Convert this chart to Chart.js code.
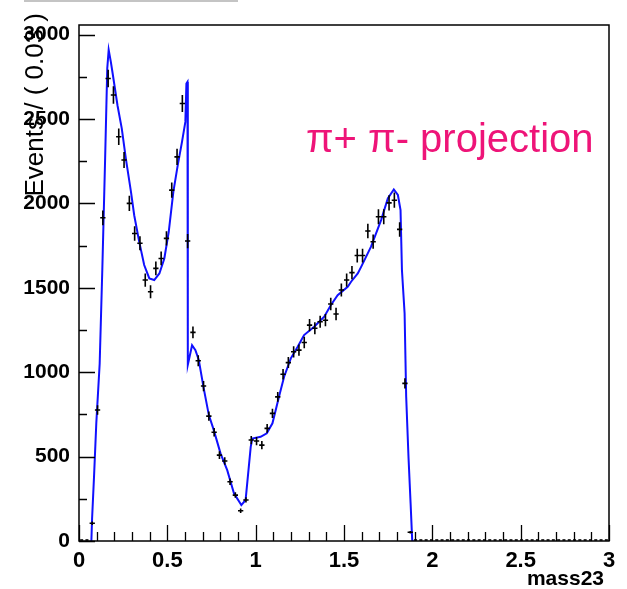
<!DOCTYPE html>
<html>
<head>
<meta charset="utf-8">
<title>mass23 projection</title>
<script src="https://cdn.jsdelivr.net/npm/chart.js@4.4.1/dist/chart.umd.min.js"></script>
<style>
    html, body { margin: 0; padding: 0; background: #ffffff; }
    #wrap { width: 627px; height: 589px; }
</style>
</head>
<body>
<div id="wrap"><canvas id="grafico" width="627" height="589"></canvas></div>
<script>
// ========== DADOS ==========
const larguraBin = 0.03;

// contagens por bin (0.00 a 3.00, bins de 0.03)
const contagens = [
    0, 0, 105, 776, 1915, 2740, 2642, 2395, 2257, 2000,
    1822, 1764, 1546, 1477, 1615, 1674, 1793, 2079, 2276, 2592,
    1777, 1236, 1068, 918, 740, 644, 509, 474, 351, 272,
    179, 243, 598, 592, 568, 667, 756, 854, 988, 1057,
    1121, 1131, 1176, 1279, 1260, 1299, 1308, 1404, 1345, 1487,
    1546, 1590, 1691, 1691, 1837, 1773, 1921, 1921, 2003, 2019,
    1846, 934, 52, 0, 0, 0, 0, 0, 0, 0,
    0, 0, 0, 0, 0, 0, 0, 0, 0, 0,
    0, 0, 0, 0, 0, 0, 0, 0, 0, 0,
    0, 0, 0, 0, 0, 0, 0, 0, 0, 0
];

// curva do ajuste (x, y)
const ajusteX = [
    0.070, 0.074, 0.085, 0.098, 0.117, 0.132, 0.148, 0.160, 0.168, 0.180,
    0.189, 0.218, 0.242, 0.265, 0.294, 0.3125, 0.341, 0.369, 0.398, 0.426,
    0.455, 0.483, 0.508, 0.534, 0.559, 0.583, 0.602, 0.608, 0.614, 0.616,
    0.640, 0.659, 0.678, 0.706, 0.735, 0.763, 0.801, 0.839, 0.877, 0.919,
    0.943, 0.972, 0.981, 1.028, 1.063, 1.095, 1.132, 1.161, 1.199, 1.237,
    1.274, 1.331, 1.388, 1.426, 1.464, 1.521, 1.540, 1.578, 1.597, 1.653,
    1.710, 1.748, 1.782, 1.805, 1.820, 1.828, 1.843, 1.852, 1.865, 1.877,
    1.886, 1.892
];
const ajusteY = [
    0, 130, 380, 700, 1050, 1610, 2270, 2800, 2910, 2840,
    2780, 2580, 2445, 2267, 2070, 1930, 1772, 1635, 1556, 1546,
    1585, 1674, 1832, 2068, 2227, 2365, 2483, 2710, 2720, 1045,
    1160, 1131, 1072, 904, 746, 657, 519, 420, 282, 213,
    243, 558, 607, 617, 638, 697, 854, 973, 1082, 1150,
    1220, 1269, 1329, 1398, 1456, 1506, 1536, 1585, 1624, 1744,
    1901, 2029, 2083, 2050, 1960, 1605, 1349, 854, 499, 223,
    5, 0
];

const ticksX = [0, 0.5, 1, 1.5, 2, 2.5, 3];
const rotulosX = ['0', '0.5', '1', '1.5', '2', '2.5', '3'];
const ticksY = [0, 500, 1000, 1500, 2000, 2500, 3000];
const rotulosY = ['0', '500', '1000', '1500', '2000', '2500', '3000'];

const tituloX = 'mass23';
const tituloY = 'Events / ( 0.03 )';
const textoProjecao = '\u03c0+ \u03c0- projection';

const FONTE = "'Liberation Sans', Arial, Helvetica, sans-serif";

// ========== PLUGINS ==========
// barras de erro dos pontos (estilo ROOT)
const barrasErro = {
    id: 'barrasErro',
    afterDatasetsDraw(chart) {
        const ctx = chart.ctx;
        const xs = chart.scales.x, ys = chart.scales.y;
        ctx.save();
        ctx.strokeStyle = '#000000';
        ctx.lineWidth = 1.6;
        contagens.forEach((n, i) => {
            const xc = (i + 0.5) * larguraBin;
            const px = xs.getPixelForValue(xc);
            const py = ys.getPixelForValue(n);
            ctx.beginPath();
            if (n > 0) {
                const erro = Math.sqrt(n);
                ctx.moveTo(xs.getPixelForValue(xc - larguraBin / 2), py);
                ctx.lineTo(xs.getPixelForValue(xc + larguraBin / 2), py);
                ctx.moveTo(px, ys.getPixelForValue(n - erro));
                ctx.lineTo(px, ys.getPixelForValue(n + erro));
            } else {
                ctx.moveTo(px - 1.5, py - 1);
                ctx.lineTo(px + 1.5, py - 1);
            }
            ctx.stroke();
        });
        ctx.restore();
    }
};

// moldura, marcas dos eixos (para dentro) e textos
const moldura = {
    id: 'moldura',
    afterDraw(chart) {
        const ctx = chart.ctx;
        const a = chart.chartArea;
        const xs = chart.scales.x, ys = chart.scales.y;
        ctx.save();
        ctx.strokeStyle = '#000000';
        ctx.lineWidth = 1.5;
        ctx.strokeRect(a.left, a.top, a.right - a.left, a.bottom - a.top);

        ctx.lineWidth = 1.3;
        ctx.beginPath();
        for (let v = 0; v <= 3000; v += 250) {
            const py = Math.round(ys.getPixelForValue(v)) + 0.5;
            const tam = v % 500 === 0 ? 16 : 8;
            ctx.moveTo(a.left, py);
            ctx.lineTo(a.left + tam, py);
        }
        for (let k = 0; k <= 30; k++) {
            const px = Math.round(xs.getPixelForValue(k * 0.1)) + 0.5;
            const tam = k % 5 === 0 ? 16 : 9;
            ctx.moveTo(px, a.bottom);
            ctx.lineTo(px, a.bottom - tam);
        }
        ctx.stroke();

        // linha cinza no topo
        ctx.strokeStyle = '#c4c4c4';
        ctx.lineWidth = 2;
        ctx.beginPath();
        ctx.moveTo(24, 1);
        ctx.lineTo(238, 1);
        ctx.stroke();

        // título do eixo x
        ctx.fillStyle = '#000000';
        ctx.font = 'bold 21px ' + FONTE;
        ctx.textAlign = 'right';
        ctx.textBaseline = 'middle';
        ctx.fillText(tituloX, 604, 579);

        // título do eixo y (rodado)
        ctx.save();
        ctx.translate(36, 13);
        ctx.rotate(-Math.PI / 2);
        ctx.font = '26px ' + FONTE;
        ctx.textAlign = 'right';
        ctx.textBaseline = 'middle';
        ctx.fillText(tituloY, 0, 0);
        ctx.restore();

        // texto da projeção
        ctx.fillStyle = '#ee1478';
        ctx.font = '40px ' + FONTE;
        ctx.textAlign = 'left';
        ctx.textBaseline = 'alphabetic';
        ctx.fillText(textoProjecao, 306, 152);
        ctx.restore();
    }
};

// ========== GRÁFICO ==========
const ctxGrafico = document.getElementById('grafico').getContext('2d');

new Chart(ctxGrafico, {
    type: 'scatter',
    data: {
        datasets: [
            {
                label: 'ajuste',
                data: ajusteX.map((x, i) => ({ x: x, y: ajusteY[i] })),
                showLine: true,
                borderColor: '#1010ff',
                borderWidth: 2,
                pointRadius: 0,
                tension: 0,
                fill: false
            },
            {
                label: 'dados',
                data: contagens.map((n, i) => ({ x: (i + 0.5) * larguraBin, y: n })),
                pointRadius: 0,
                showLine: false
            }
        ]
    },
    options: {
        responsive: false,
        animation: false,
        devicePixelRatio: 1,
        layout: { padding: { left: 0, top: 25, right: 18, bottom: 0 } },
        plugins: {
            legend: { display: false },
            tooltip: { enabled: false }
        },
        scales: {
            x: {
                type: 'linear',
                min: 0,
                max: 3,
                grid: { display: false, drawTicks: false },
                border: { display: false },
                afterFit(scale) { scale.height = 48; },
                afterBuildTicks(scale) { scale.ticks = ticksX.map(v => ({ value: v })); },
                ticks: {
                    autoSkip: false,
                    maxRotation: 0,
                    padding: 7,
                    color: '#000000',
                    font: { family: FONTE, weight: 'bold', size: 22 },
                    callback: (v) => rotulosX[ticksX.indexOf(v)] ?? ''
                }
            },
            y: {
                type: 'linear',
                min: 0,
                max: 3057,
                grid: { display: false, drawTicks: false },
                border: { display: false },
                afterFit(scale) { scale.width = 79; },
                afterBuildTicks(scale) { scale.ticks = ticksY.map(v => ({ value: v })); },
                ticks: {
                    autoSkip: false,
                    padding: 9,
                    color: '#000000',
                    font: { family: FONTE, weight: 'bold', size: 21 },
                    callback: (v) => rotulosY[ticksY.indexOf(v)] ?? ''
                }
            }
        }
    },
    plugins: [barrasErro, moldura]
});
</script>
</body>
</html>
